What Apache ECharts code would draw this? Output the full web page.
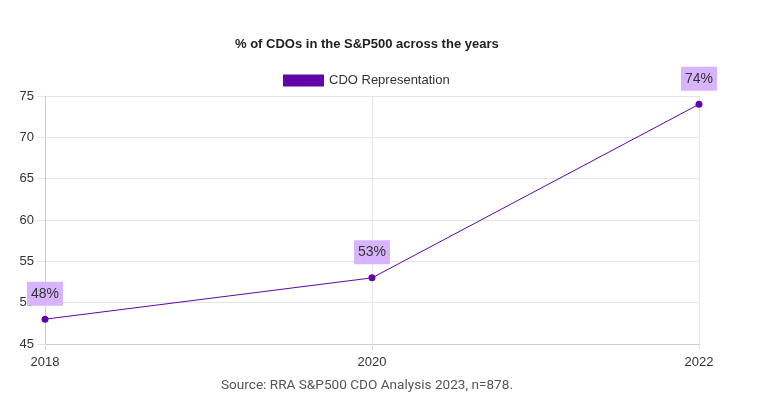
<!DOCTYPE html>
<html><head><meta charset="utf-8">
<script src="https://cdn.jsdelivr.net/npm/echarts@6/dist/echarts.min.js"></script>
<style>html,body{margin:0;padding:0;background:#fff}#c{width:767px;height:408px}</style>
</head><body><div id="c"></div>
<script>
const categories = ['2018', '2020', '2022'];
const cdoValues = [48, 53, 74];
const yTicks = { min: 45, max: 75, interval: 5 };
const FONT = '"Liberation Sans", Arial, sans-serif';
const chart = echarts.init(document.getElementById('c'));
chart.setOption({
  animation: false,
  textStyle: { fontFamily: FONT },
  title: [
    { text: '% of CDOs in the S&P500 across the years', left: 230, top: 33,
      textStyle: { fontSize: 13, fontWeight: 'bold', color: '#222', fontFamily: FONT } },
    { text: 'Source: RRA S&P500 CDO Analysis 2023, n=878.', left: 216, top: 374,
      textStyle: { fontSize: 13.6, fontWeight: 'normal', color: '#555', fontFamily: 'Roboto, sans-serif' } }
  ],
  legend: { top: 69, left: 278, itemWidth: 41, itemHeight: 12, itemGap: 8,
    icon: 'rect', textStyle: { fontSize: 13, color: '#333', fontFamily: FONT },
    data: ['CDO Representation'] },
  grid: { left: 45, right: 68, top: 96, bottom: 64 },
  xAxis: { type: 'category', data: categories, boundaryGap: false,
    axisLine: { lineStyle: { color: '#ccc' } },
    axisTick: { show: true, length: 6, lineStyle: { color: '#ddd' } },
    axisLabel: { color: '#333', fontSize: 13, margin: 12, fontFamily: FONT },
    splitLine: { show: true, lineStyle: { color: '#e5e5e5' } } },
  yAxis: { type: 'value', min: yTicks.min, max: yTicks.max, interval: yTicks.interval,
    axisLine: { show: true, lineStyle: { color: '#ccc' } },
    axisTick: { show: true, length: 8, lineStyle: { color: '#e5e5e5' } },
    axisLabel: { color: '#333', fontSize: 13, margin: 11, fontFamily: FONT },
    splitLine: { show: true, lineStyle: { color: '#e5e5e5' } } },
  series: [{
    name: 'CDO Representation', type: 'line', data: cdoValues,
    symbol: 'circle', symbolSize: 7,
    itemStyle: { color: '#6205a8' },
    lineStyle: { color: '#6205a8', width: 1 },
    label: { show: true, position: 'top', distance: 10, formatter: '{c}%',
      backgroundColor: '#d8b4fe', padding: [5, 4, 5, 4], color: '#333', fontSize: 14, fontFamily: FONT },
    z: 5
  }]
});
</script></body></html>
